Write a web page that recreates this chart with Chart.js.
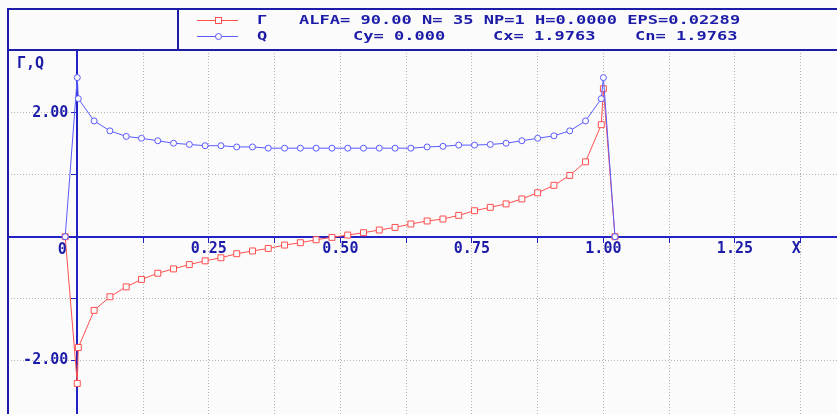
<!DOCTYPE html>
<html>
<head>
<meta charset="utf-8">
<script src="https://cdn.jsdelivr.net/npm/chart.js@4.4.1/dist/chart.umd.min.js"></script>
<style>
  body { margin: 0; background: #fbfbfb; }
  #wrap { width: 837px; height: 414px; }
</style>
</head>
<body>
<div id="wrap"><canvas id="Profile_Chart"></canvas></div>
<script>
// x positions of the control points along the chord
var xPos = [-0.023, 0, 0.002, 0.032, 0.062, 0.093, 0.122, 0.153, 0.183, 0.213, 0.243, 0.273,
  0.303, 0.333, 0.363, 0.394, 0.424, 0.454, 0.484, 0.514, 0.544, 0.574, 0.604, 0.634,
  0.665, 0.695, 0.725, 0.755, 0.785, 0.815, 0.845, 0.875, 0.906, 0.936, 0.966, 0.996, 1.0, 1.022];

// circulation
var gammaVals = [0, -2.37, -1.79, -1.19, -0.97, -0.81, -0.69, -0.59, -0.52, -0.45, -0.39, -0.34,
  -0.275, -0.23, -0.19, -0.135, -0.097, -0.049, -0.011, 0.027, 0.065, 0.108, 0.15, 0.205,
  0.254, 0.286, 0.345, 0.42, 0.474, 0.53, 0.61, 0.71, 0.83, 0.99, 1.21, 1.81, 2.39, 0];

// Q
var qVals = [0, 2.57, 2.23, 1.87, 1.71, 1.62, 1.59, 1.55, 1.51, 1.49, 1.47, 1.47,
  1.45, 1.45, 1.43, 1.43, 1.43, 1.43, 1.43, 1.43, 1.43, 1.43, 1.43, 1.43,
  1.45, 1.46, 1.48, 1.48, 1.49, 1.51, 1.55, 1.59, 1.63, 1.71, 1.87, 2.23, 2.57, 0];

var xTickVals = [0.25, 0.5, 0.75, 1, 1.25, 1.375];
var xTickText = ['0.25', '0.50', '0.75', '1.00', '1.25', 'X '];
var yTickVals = [2, -2];
var yTickText = ['2.00 ', '-2.00 '];

var headRow1 = 'ALFA= 90.00 N= 35 NP=1 H=0.0000 EPS=0.02289';
var headRow2 = ['Cy= 0.000', 'Cx= 1.9763', 'Cn= 1.9763'];

var navy = '#1c1ca8';
var axisBlue = '#2222c4';
var gridGray = '#b4b4b4';
var redLine = '#ff4f4f';
var blueLine = '#5a5aff';
var bg = '#fbfbfb';
var monoFont = "'DejaVu Sans Mono', monospace";

function toPoints(ys){
  var pts = [];
  for (var i = 0; i < xPos.length; i++) pts.push({x: xPos[i], y: ys[i]});
  return pts;
}

function wideText(ctx, str, x, y){
  ctx.save();
  ctx.translate(x, y);
  ctx.scale(1.42, 1);
  ctx.fillText(str, 0, 0);
  ctx.restore();
}

// axes sit inside the plot, so they must not shrink it
function noPadding(scale){
  scale.paddingLeft = 0;
  scale.paddingRight = 0;
  scale.paddingTop = 0;
  scale.paddingBottom = 0;
}

var framePlugin = {
  id: 'frame',
  afterDraw: function(chart){
    var ctx = chart.ctx;
    ctx.save();
    ctx.strokeStyle = navy;
    ctx.lineWidth = 2;
    ctx.beginPath();
    ctx.moveTo(7, 9); ctx.lineTo(837, 9);
    ctx.moveTo(7, 50); ctx.lineTo(837, 50);
    ctx.moveTo(8, 8); ctx.lineTo(8, 414);
    ctx.moveTo(178, 9); ctx.lineTo(178, 50);
    ctx.stroke();

    // legend samples
    ctx.lineWidth = 1;
    ctx.strokeStyle = redLine;
    ctx.beginPath(); ctx.moveTo(197, 20.5); ctx.lineTo(238, 20.5); ctx.stroke();
    ctx.fillStyle = bg;
    ctx.fillRect(215, 17.5, 6, 6);
    ctx.strokeRect(215.5, 17.5, 6, 6);
    ctx.strokeStyle = blueLine;
    ctx.beginPath(); ctx.moveTo(197, 36.5); ctx.lineTo(238, 36.5); ctx.stroke();
    ctx.beginPath(); ctx.arc(218.5, 36.5, 3, 0, Math.PI * 2); ctx.fill(); ctx.stroke();

    ctx.fillStyle = navy;
    ctx.textBaseline = 'middle';
    ctx.textAlign = 'left';
    ctx.font = 'bold 12px ' + monoFont;
    wideText(ctx, 'Γ', 257, 21);
    wideText(ctx, headRow1, 299, 21);
    wideText(ctx, 'Q', 257, 37);
    wideText(ctx, headRow2[0], 353, 37);
    wideText(ctx, headRow2[1], 493, 37);
    wideText(ctx, headRow2[2], 635, 37);

    // axis title and origin label
    ctx.font = 'bold 15px ' + monoFont;
    ctx.fillText('Γ,Q', 17, 64);
    ctx.textAlign = 'center';
    ctx.fillText('0', chart.scales.x.getPixelForValue(0) - 15, chart.scales.y.getPixelForValue(0) + 13);
    ctx.restore();
  }
};

var ctx = document.getElementById('Profile_Chart');
var profileChart = new Chart(ctx, {
  type: 'scatter',
  data: {
    datasets: [{
      label: 'Q',
      data: toPoints(qVals),
      showLine: true,
      borderColor: blueLine,
      borderWidth: 1,
      pointStyle: 'circle',
      pointRadius: 3,
      pointBorderWidth: 1,
      pointBorderColor: blueLine,
      pointBackgroundColor: bg,
      order: 0
    }, {
      label: 'Γ',
      data: toPoints(gammaVals),
      showLine: true,
      borderColor: redLine,
      borderWidth: 1,
      pointStyle: 'rect',
      pointRadius: 4.2,
      pointBorderWidth: 1,
      pointBorderColor: redLine,
      pointBackgroundColor: bg,
      order: 1
    }]
  },
  options: {
    responsive: true,
    maintainAspectRatio: false,
    animation: false,
    layout: { autoPadding: false, padding: { left: 8, top: 50, right: 0, bottom: 0 } },
    plugins: {
      legend: { display: false },
      tooltip: { enabled: false }
    },
    scales: {
      x: {
        type: 'linear',
        position: { y: 0 },
        min: -0.1317,
        max: 1.444,
        afterFit: noPadding,
        grid: {
          color: function(c){ return c.tick && c.tick.value > 0 ? gridGray : 'rgba(0,0,0,0)'; },
          tickColor: function(c){ return c.tick && c.tick.value > 0 ? axisBlue : 'rgba(0,0,0,0)'; },
          tickLength: 5,
          lineWidth: 1
        },
        border: { display: true, color: axisBlue, width: 2, dash: [1, 2] },
        ticks: {
          stepSize: 0.125,
          includeBounds: false,
          autoSkip: false,
          maxRotation: 0,
          padding: 0,
          color: navy,
          font: { family: monoFont, size: 15, weight: 'bold', lineHeight: 1 },
          callback: function(v){
            var i = xTickVals.indexOf(v);
            return i < 0 ? '' : xTickText[i];
          }
        }
      },
      y: {
        type: 'linear',
        position: { x: 0 },
        min: -2.864,
        max: 3.016,
        afterFit: noPadding,
        grid: {
          color: function(c){ return c.tick && c.tick.value !== 0 && c.tick.value < 3 ? gridGray : 'rgba(0,0,0,0)'; },
          tickColor: function(c){ return c.tick && c.tick.value !== 0 && c.tick.value < 3 ? axisBlue : 'rgba(0,0,0,0)'; },
          tickLength: 5,
          lineWidth: 1
        },
        border: { display: true, color: axisBlue, width: 2, dash: [1, 2] },
        ticks: {
          stepSize: 1,
          includeBounds: false,
          autoSkip: false,
          padding: 0,
          color: navy,
          font: { family: monoFont, size: 15, weight: 'bold', lineHeight: 1 },
          callback: function(v){
            var i = yTickVals.indexOf(v);
            return i < 0 ? '' : yTickText[i];
          }
        }
      }
    }
  },
  plugins: [framePlugin]
});
</script>
</body>
</html>
